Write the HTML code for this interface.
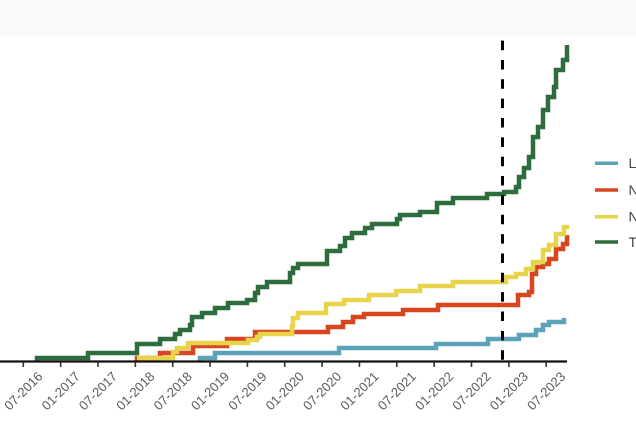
<!DOCTYPE html>
<html>
<head>
<meta charset="utf-8">
<style>
  html, body { margin: 0; padding: 0; background: #ffffff; }
  body { width: 636px; height: 424px; overflow: hidden; position: relative; }
  .band { position: absolute; left: 0; top: 0; width: 636px; height: 36px; background: #f9f9f9; }
  svg { position: absolute; left: 0; top: 0; }
  text { font-family: "Liberation Sans", "DejaVu Sans", sans-serif; }
</style>
</head>
<body>
<div class="band"></div>
<svg width="636" height="424" viewBox="0 0 636 424" xmlns="http://www.w3.org/2000/svg">
  <!-- series -->
  <g fill="none" stroke-width="4.5" stroke-linejoin="miter" stroke-linecap="butt">
    <path stroke="#5ba3b8" d="M200,361 V358 H215 V353 H339 V348 H436 V344 H488 V339 H519 V335 H536 V330 H543 V325 H549 V322 H564 V318"/>
    <path stroke="#d8461f" d="M137,361 V358 H160 V353 H193 V346 H227 V339 H255 V332 H328 V327 H343 V322 H353 V317 H364 V314 H403 V310 H438 V305 H518 V295 H529 V292 H532 V274 H536 V267 H543 V264 H549 V259 H556 V249 H563 V244 H567 V235"/>
    <path stroke="#e7d44b" d="M137,358 H173 V352 H177 V348 H188 V343 H248 V340 H257 V337 H260 V334 H292 V326 H293 V318 H298 V313 H326 V304 H344 V300 H369 V295 H396 V291 H420 V286 H453 V282 H506 V277 H516 V274 H526 V269 H533 V262 H543 V250 H549 V245 H556 V234 H564 V227 H567 V225"/>
    <path stroke="#2d6c3d" d="M37,361 V358 H88 V353 H137 V344 H160 V339 H175 V334 H180 V330 H190 V325 H192 V317 H202 V313 H215 V308 H228 V303 H247 V300 H255 V293 H258 V287 H267 V282 H290 V273 H293 V268 H298 V264 H327 V251 H340 V246 H345 V238 H352 V233 H365 V228 H372 V224 H397 V219 H400 V215 H420 V212 H437 V203 H453 V198 H487 V194 H504 V192 H516 V187 H519 V177 H524 V168 H529 V157 H533 V137 H538 V127 H543 V110 H548 V97 H554 V87 H556 V70 H563 V60 H567 V45"/>
  </g>

  <!-- dashed vertical line -->
  <line x1="502.5" y1="40.6" x2="502.5" y2="360" stroke="#000" stroke-width="3" stroke-dasharray="9.5 9.85"/>

  <!-- x axis -->
  <line x1="0" y1="361.5" x2="567" y2="361.5" stroke="#111" stroke-width="2.2"/>
  <g stroke="#333" stroke-width="1.6">
    <line x1="23.3" y1="362" x2="23.3" y2="367"/>
    <line x1="60.65" y1="362" x2="60.65" y2="367"/>
    <line x1="98" y1="362" x2="98" y2="367"/>
    <line x1="135.35" y1="362" x2="135.35" y2="367"/>
    <line x1="172.7" y1="362" x2="172.7" y2="367"/>
    <line x1="210.05" y1="362" x2="210.05" y2="367"/>
    <line x1="247.4" y1="362" x2="247.4" y2="367"/>
    <line x1="284.75" y1="362" x2="284.75" y2="367"/>
    <line x1="322.1" y1="362" x2="322.1" y2="367"/>
    <line x1="359.45" y1="362" x2="359.45" y2="367"/>
    <line x1="396.8" y1="362" x2="396.8" y2="367"/>
    <line x1="434.15" y1="362" x2="434.15" y2="367"/>
    <line x1="471.5" y1="362" x2="471.5" y2="367"/>
    <line x1="508.85" y1="362" x2="508.85" y2="367"/>
    <line x1="546.2" y1="362" x2="546.2" y2="367"/>
  </g>
  <g font-size="13" fill="#5a5a5a" text-anchor="middle" dominant-baseline="central">
    <text x="23.3" y="391" transform="rotate(-45 23.3 391)">07-2016</text>
    <text x="60.65" y="391" transform="rotate(-45 60.65 391)">01-2017</text>
    <text x="98" y="391" transform="rotate(-45 98 391)">07-2017</text>
    <text x="135.35" y="391" transform="rotate(-45 135.35 391)">01-2018</text>
    <text x="172.7" y="391" transform="rotate(-45 172.7 391)">07-2018</text>
    <text x="210.05" y="391" transform="rotate(-45 210.05 391)">01-2019</text>
    <text x="247.4" y="391" transform="rotate(-45 247.4 391)">07-2019</text>
    <text x="284.75" y="391" transform="rotate(-45 284.75 391)">01-2020</text>
    <text x="322.1" y="391" transform="rotate(-45 322.1 391)">07-2020</text>
    <text x="359.45" y="391" transform="rotate(-45 359.45 391)">01-2021</text>
    <text x="396.8" y="391" transform="rotate(-45 396.8 391)">07-2021</text>
    <text x="434.15" y="391" transform="rotate(-45 434.15 391)">01-2022</text>
    <text x="471.5" y="391" transform="rotate(-45 471.5 391)">07-2022</text>
    <text x="508.85" y="391" transform="rotate(-45 508.85 391)">01-2023</text>
    <text x="546.2" y="391" transform="rotate(-45 546.2 391)">07-2023</text>
  </g>

  <!-- legend -->
  <g stroke-width="3.5">
    <line x1="595" y1="163.3" x2="618" y2="163.3" stroke="#5ba3b8"/>
    <line x1="595" y1="190" x2="618" y2="190" stroke="#d8461f"/>
    <line x1="595" y1="216.7" x2="618" y2="216.7" stroke="#e7d44b"/>
    <line x1="595" y1="242" x2="618" y2="242" stroke="#2d6c3d"/>
  </g>
  <g font-size="14" fill="#444">
    <text x="628.5" y="168">L</text>
    <text x="628.5" y="195">N</text>
    <text x="628.5" y="221.5">N</text>
    <text x="628.5" y="247">T</text>
  </g>
</svg>
</body>
</html>
